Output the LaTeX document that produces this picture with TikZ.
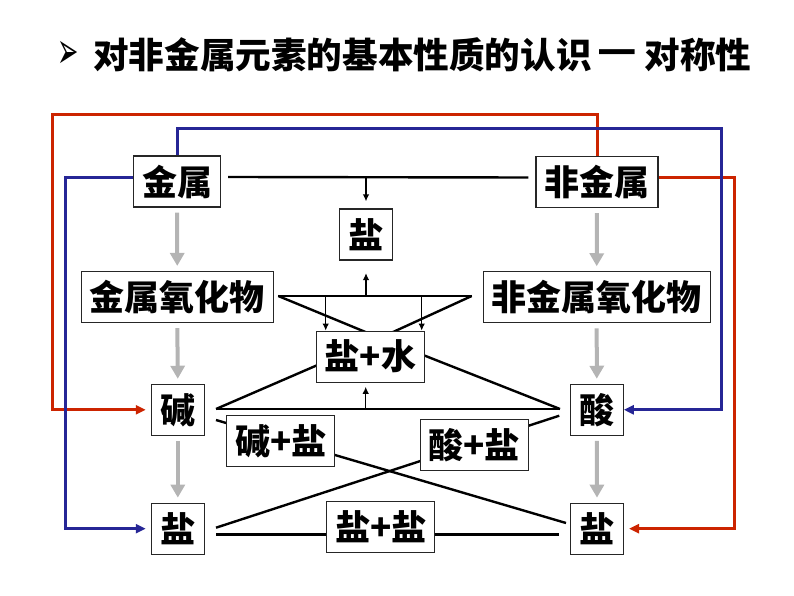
\documentclass[tikz,border=0pt]{standalone}
\usepackage{fontspec}
\setmainfont{Noto Sans CJK SC}
\newfontfamily\symfont{DejaVu Sans}
\newfontfamily\dashfont{Liberation Sans}
\usepackage{xcolor}
\usepackage{tikz}
\usetikzlibrary{arrows.meta, calc}
\definecolor{lnred}{RGB}{204,36,0}
\definecolor{lnblue}{RGB}{38,38,150}
\definecolor{lngray}{RGB}{180,180,180}
\pgfdeclarelayer{back}
\pgfsetlayers{back,main}

\begin{document}
\begin{tikzpicture}[x=1pt, y=-1pt,
    box/.style={draw=black!85, line width=1.1pt, fill=white, minimum height=51pt, minimum width=53pt, inner xsep=8.5pt, inner ysep=0pt, font=\fontsize{35}{40}\selectfont\bfseries},
    grayarrow/.style={lngray, line width=4pt, -{Triangle[length=13pt,width=14pt]}, shorten <=5pt, shorten >=5pt},
    thinarrow/.style={line width=1.4pt, -{Latex[length=7pt,width=6.5pt]}},
    joinline/.style={line width=2.4pt},
    redline/.style={lnred, line width=3pt, -{Triangle[length=10pt,width=9pt]}},
    blueline/.style={lnblue, line width=3pt, -{Triangle[length=10pt,width=9pt]}}]
    \useasboundingbox (0,0) rectangle (794,596);
    % title
    \node(bullet) at (68,55) {\symfont\fontsize{30}{34}\selectfont\scalebox{0.85}[1.7]{➢}};
    \node[anchor=west, inner sep=0pt, font=\fontsize{35.6}{40}\selectfont\bfseries](title) at (93,55) {对非金属元素的基本性质的认识\hspace{8pt}\raisebox{3pt}{\dashfont\bfseries\scalebox{1}[1.4]{—}}\hspace{9.5pt}对称性};
    % boxes
    \node[box](node1_1) at (177,181.5) {金属};
    \node[box](node1_2) at (597,182) {非金属};
    \node[box](node2_1) at (366,234.5) {盐};
    \node[box](node3_1) at (177.3,297) {金属氧化物};
    \node[box](node3_2) at (596.7,297.3) {非金属氧化物};
    \node[box](node4_1) at (370.5,356.7) {盐+水};
    \node[box](node5_1) at (177.8,409.8) {碱};
    \node[box](node5_2) at (596.8,409.8) {酸};
    \node[box](node6_1) at (280.7,441) {碱+盐};
    \node[box](node6_2) at (474.3,445) {酸+盐};
    \node[box](node7_1) at (177.8,528.7) {盐};
    \node[box](node7_2) at (380.7,527) {盐+盐};
    \node[box](node7_3) at (597,528.7) {盐};
    % line ends
    \coordinate(top_mid) at (365,177);
    \coordinate(tri1_l) at (278.3,296);
    \coordinate(tri1_r) at (471.7,296);
    \coordinate(tri2_l) at (216,409);
    \coordinate(tri2_r) at (560,409);
    \coordinate(meet) at (380,338);
    \coordinate(drop_l) at (325.7,296);
    \coordinate(drop_r) at (421.7,296);
    \coordinate(rise) at (365.7,409);
    \coordinate(cross1_a) at (216,420);
    \coordinate(cross1_b) at (566,523);
    \coordinate(cross2_a) at (216,527.7);
    \coordinate(cross2_b) at (559.3,415.7);
    \coordinate(base_l) at (216,534);
    \coordinate(base_r) at (559.3,534);
    % black lines
    \draw[joinline] ([xshift=7pt,yshift=4.5pt]node1_1.east) -- ([xshift=-7pt,yshift=4.5pt]node1_2.west);
    \draw[thinarrow, shorten >=7pt] (node2_1.north |- top_mid) -- (node2_1.north);
    \draw[thinarrow, shorten >=12.5pt] (node2_1.south |- tri1_l) -- (node2_1.south);
    \draw[thinarrow] (drop_l) -- (drop_l |- node4_1.north);
    \draw[thinarrow] (drop_r) -- (drop_r |- node4_1.north);
    \draw[thinarrow, shorten >=4pt] (rise) -- (rise |- node4_1.south);
    \begin{pgfonlayer}{back}
        \draw[joinline] (tri1_l) -- (tri1_r);
        \draw[joinline] (tri1_l) -- (meet) -- (tri1_r);
        \draw[joinline] (tri2_l) -- (tri2_r);
        \draw[joinline] (tri2_l) -- (meet) -- (tri2_r);
        \draw[joinline] (cross1_a) -- (cross1_b);
        \draw[joinline] (cross2_a) -- (cross2_b);
        \draw[joinline, line width=3pt] (base_l) -- (base_r);
    \end{pgfonlayer}
    % gray arrows
    \draw[grayarrow] (node1_1.south) -- (node3_1.north);
    \draw[grayarrow] (node3_1.south) -- (node5_1.north);
    \draw[grayarrow] (node5_1.south) -- (node7_1.north);
    \draw[grayarrow] (node1_2.south) -- (node3_2.north);
    \draw[grayarrow] (node3_2.south) -- (node5_2.north);
    \draw[grayarrow] (node5_2.south) -- (node7_3.north);
    % coloured paths
    \draw[redline, shorten >=5pt] (node1_2.north) |- (52.7,115) |- (node5_1.west);
    \draw[redline, shorten >=5pt] ([yshift=4.5pt]node1_2.east) -| (734.3,528.7) -- (node7_3.east);
    \draw[blueline] (node1_1.north) |- (721.7,128.3) |- (node5_2.east);
    \draw[blueline, shorten >=5pt] ([yshift=4.5pt]node1_1.west) -| (65.7,528.7) -- (node7_1.west);
\end{tikzpicture}
\end{document}
